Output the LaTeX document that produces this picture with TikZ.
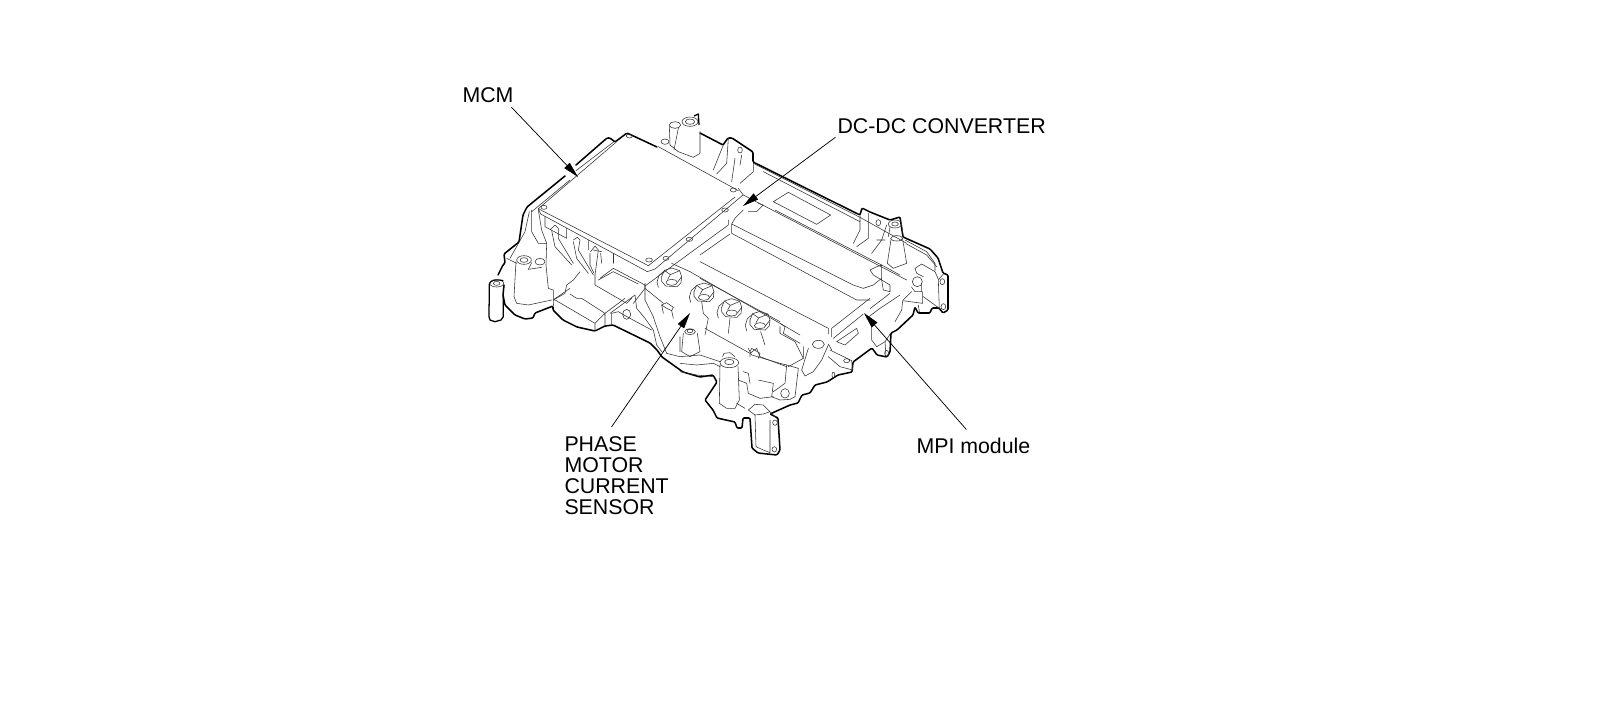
\documentclass[tikz,border=0pt]{standalone}
\usepackage{fontspec}
\setmainfont{Liberation Sans}
\usetikzlibrary{arrows.meta}
\tikzset{
  zoomfrom/.style 2 args={shift={(#1,#2)},x=.25pt,y=-.25pt},
  fine/.style={line width=.42pt,draw=black!80,line join=round,line cap=round},
  heavy/.style={line width=1.15pt,draw=black,line join=round,line cap=round,rounded corners=.8pt},
  tube/.style={line width=.95pt,draw=black,line join=round},
  callout/.style={inner sep=0pt,outer sep=0pt,font=\fontsize{16}{15.75}\selectfont,text=black,align=left},
  pointer/.style={line width=.55pt,draw=black,-{Triangle[length=12pt,width=5.6pt]}},
  nutbolt/.pic={
    \draw[fine] (-30,-8)--(-22,-27)--(0,-34)--(24,-26)--(30,-8)--(18,8);
    \draw[fine] (-30,-8)--(-30,6)--(-18,20)--(16,22)--(28,10)--(30,-8);
    \draw[fine] (-22,-27)--(-4,-14)--(24,-26) (-4,-14)--(-12,0);
    \draw[fine] (0,9) ellipse [x radius=17,y radius=9];
    \draw[fine] (-24,-24)--(-38,-12)--(-44,8)--(-40,24);
  }
}
\begin{document}
\begin{tikzpicture}[x=.75pt,y=-.75pt]
\useasboundingbox (0,0) rectangle (1600,708);

% main silhouette
\draw[heavy] (498,275)--(503,265)--(505,263)--(504,254)--(519,242)--(523,215)--(527,207)--(565,176);
\draw[heavy] (576,165)--(607,138)--(610,138)--(615,142)--(627,133)--(657,147);
\draw[heavy] (700,133)--(723,145)--(728,138)--(732,138)--(753,152)--(753,162)--(860,215)--(862,208)--(870,212)--(890,220)--(900,217)--(903,237)--(930,249)--(938,258)--(943,273)--(948,275)--(948,310)--(943,313)--(939,308)--(932,308)--(930,313)--(918,313)--(915,307)--(913,315)--(897,330)--(891,333)--(890,352)--(887,357)--(877,355)--(872,348)--(853,362)--(852,372)--(838,375)--(827,382)--(815,385)--(810,393)--(802,395)--(798,403)--(790,405)--(770,414)--(778,418)--(780,450)--(777,455)--(758,453)--(752,448)--(750,418)--(743,418)--(742,428)--(737,428)--(735,422)--(717,418)--(713,410)--(705,400)--(717,382)--(713,375)--(700,377)--(683,372)--(662,357)--(657,350)--(650,343)--(613,325)--(605,326)--(595,331)--(577,327)--(563,320)--(553,310)--(553,306)--(535,313)--(533,318)--(525,319)--(515,315)--(505,305)--(503,295)--(504,285);

% upper left: the MCM plate and its rear wall
\begin{scope}[zoomfrom={470}{100}]
  \draw[fine] (185,335)--(300,240) (318,212)--(432,125);
  \draw[fine] (205,326)--(440,125);
  \draw[fine] (205,326)--(535,497)--(795,291);
  \draw[fine] (212,342)--(532,515)--(555,507)--(819,285);
  \draw[fine] (205,326)--(212,342);
  \draw[fine] (565,140)--(805,272);
  \draw[fine] (222,322) ellipse [x radius=9,y radius=6]
              (537,480) ellipse [x radius=10,y radius=6]
              (588,475) ellipse [x radius=9,y radius=6]
              (658,418) ellipse [x radius=10,y radius=6]
              (478,108) ellipse [x radius=9,y radius=6]
              (790,270) ellipse [x radius=9,y radius=6]
              (765,330) ellipse [x radius=10,y radius=6];
  % post at the rear
  \draw[fine] (660,65) ellipse [x radius=24,y radius=14] (660,65) ellipse [x radius=14,y radius=8];
  \draw[fine] (615,75) ellipse [x radius=17,y radius=10];
  \draw[fine] (598,78)--(600,135)--(625,155)--(670,172)--(690,160)--(690,95);
  \draw[fine] (585,125) ellipse [x radius=12,y radius=8];
  \draw[fine] (625,85)--(612,150);
  \draw[tube] (672,48)--(685,42)--(687,75);
\end{scope}

% left end
\begin{scope}[zoomfrom={470}{210}]
  \draw[fine] (178,5)--(165,65)--(120,145) (185,0)--(185,65)--(205,100)--(230,100);
  \draw[fine] (205,0)--(215,60)--(230,100);
  \draw[fine] (162,150) ellipse [x radius=22,y radius=13] (162,150) ellipse [x radius=12,y radius=7];
  \draw[fine] (210,155) ellipse [x radius=15,y radius=10];
  \draw[fine] (138,155)--(132,260)--(140,280)--(175,285)--(245,270);
  \draw[fine] (110,145)--(140,160) (185,158)--(175,178)--(215,172);
  \draw[fine] (230,100)--(228,165)--(235,235)--(250,240)--(250,272);
  \draw[fine] (240,60)--(255,45)--(265,55)--(265,85)--(310,160);
  \draw[fine] (245,62)--(255,110)--(305,165);
  \draw[fine] (310,90)--(322,82)--(330,90)--(325,120)--(370,195);
  \draw[fine] (310,95)--(320,145)--(355,190);
  \draw[fine] (362,125)--(375,108)--(385,120)--(375,195);
  \draw[fine] (360,130)--(360,165)--(372,190);
  \draw[fine] (392,130)--(395,160) (370,120)--(395,125);
  \draw[fine] (225,20)--(225,50)--(290,85)--(290,55) (355,90)--(355,120);
  \draw[fine] (430,130)--(430,160);
  \draw[fine] (375,195)--(375,225)--(470,280)--(485,265) (385,210)--(430,185)--(505,222);
  \draw[fine] (330,185)--(310,210)--(290,225)--(285,250)--(250,270);
  % tube at the far left
  \draw[tube] (100,255)--(100,320)--(93,330)--(75,335)--(60,330)--(57,320)--(58,222)
              .. controls (60,212) and (75,208) .. (88,210);
  \draw[fine] (80,220) ellipse [x radius=21,y radius=11] (80,220) ellipse [x radius=10,y radius=6];
  \draw[tube] (88,210)--(100,212);
\end{scope}

% lower left block
\begin{scope}[zoomfrom={470}{270}]
  \draw[fine] (252,88)--(375,160)--(375,182) (375,160)--(405,130)--(405,168);
  \draw[fine] (252,88)--(300,55) (300,72)--(320,85)--(335,85)--(405,130) (405,130)--(465,85);
  \draw[fine] (490,100)--(525,55)--(525,40);
  \draw[fine] (425,165)--(425,130)--(445,125)--(480,145)--(545,180);
  \draw[fine] (470,133) ellipse [x radius=12,y radius=15];
  \draw[fine] (250,108)--(252,88);
\end{scope}

% centre: sensor area, nuts
\begin{scope}[zoomfrom={600}{220}]
  \draw[fine] (135,195)--(135,240)--(160,290)--(180,350)--(200,400);
  \draw[fine] (105,225)--(110,265)--(135,295)--(160,330)--(170,375)--(185,395);
  \draw[fine] (135,198)--(385,15)--(385,0);
  \draw[fine] (135,195)--(40,145)--(0,175) (105,225)--(30,280);
  \draw[fine] (215,130)--(270,155)--(540,310)--(600,345);
  \draw[fine] (135,205)--(190,250);
  \draw[fine] (185,255)--(200,248)--(220,262)--(215,272)--(200,265)--(185,255);
  \draw[fine] (185,255)--(190,280) (215,272)--(220,295);
  \draw[fine] (305,245)--(310,280)--(325,295)--(320,320)--(315,345);
  \draw[fine] (390,295)--(385,340) (482,335)--(495,375);
  \draw[fine] (315,325)--(450,400)--(470,385)--(480,410)--(560,440) (450,400)--(450,410);
  \draw[fine] (540,310)--(555,320)--(550,340)--(600,370);
  \draw[fine] (270,335) ellipse [x radius=16,y radius=9] (270,333) ellipse [x radius=9,y radius=5];
  \draw[fine] (250,340)--(245,395)--(270,410)--(300,395)--(292,340) (240,350)--(240,395);
  \draw[fine] (200,400)--(240,410)--(300,405)--(360,425);
  \pic at (215,178) {nutbolt};
  \pic at (312,223) {nutbolt};
  \pic at (395,270) {nutbolt};
  \pic at (480,308) {nutbolt};
\end{scope}

% lower post and front bracket
\begin{scope}[zoomfrom={680}{340}]
  \draw[fine] (148,68) ellipse [x radius=28,y radius=15] (148,66) ellipse [x radius=14,y radius=8];
  \draw[fine] (128,50)--(132,40)--(150,38)--(165,50);
  \draw[fine] (120,75)--(118,190)--(140,205)--(165,205)--(178,180)--(174,80);
  \draw[fine] (0,70)--(50,75)--(100,70)--(120,80) (0,95)--(50,105)--(100,110);
  \draw[fine] (175,120)--(200,130)--(205,160)--(240,175)--(280,170);
  \draw[fine] (190,95)--(205,100)--(210,130);
  \draw[fine] (235,120)--(280,130)--(275,170)--(300,180)--(330,178)--(345,170)--(355,85)--(320,75)--(315,130)--(280,155);
  \draw[fine] (315,160) ellipse [x radius=13,y radius=14];
  \draw[fine] (170,190)--(195,205);
  \draw[fine] (205,210)--(225,193)--(250,195)--(270,215) (205,210)--(225,225)--(250,222)--(270,215)--(290,235);
  \draw[fine] (225,225)--(228,320)--(250,330)--(270,338)--(270,240);
  \draw[fine] (285,248) ellipse [x radius=7,y radius=8] (283,328) ellipse [x radius=7,y radius=8];
  \draw[fine] (205,25)--(215,45)--(300,70)--(320,75) (210,35)--(215,25)--(240,40)--(235,55);
\end{scope}

% lower right corner
\begin{scope}[zoomfrom={700}{270}]
  \draw[fine] (355,223) ellipse [x radius=18,y radius=12];
  \draw[fine] (385,225)--(365,270)--(340,305)--(315,318)--(305,300)--(325,235);
  \draw[fine] (390,240)--(455,272)--(458,300)--(420,290)--(385,260);
  \draw[fine] (440,272) ellipse [x radius=9,y radius=6] (400,315) ellipse [x radius=4,y radius=9];
  \draw[fine] (240,170)--(240,190)--(285,215)--(310,265)--(310,230);
  \draw[fine] (265,290)--(310,265) (385,222)--(395,240);
  \draw[fine] (470,175)--(410,215)--(435,225)--(475,190)--(470,175);
  \draw[fine] (515,170)--(515,210)--(530,230)--(555,215)--(572,190);
  \draw[fine] (555,215)--(558,258);
  \draw[fine] (560,250) ellipse [x radius=6,y radius=9];
\end{scope}

% MPI module
\begin{scope}[zoomfrom={700}{210}]
  \draw[fine] (130,0)--(105,25)--(95,42)--(95,70)--(470,270)--(510,270);
  \draw[fine] (95,42)--(460,225)--(490,235)--(520,225)--(545,205);
  \draw[fine] (90,72)--(0,135);
  \draw[fine] (0,155)--(385,355)--(385,372);
  \draw[fine] (0,205)--(240,335);
  \draw[fine] (225,0)--(515,150)--(545,165)--(600,195);
  \draw[fine] (510,180)--(530,170)--(545,165)--(545,210)--(520,195)--(510,180);
  \draw[fine] (545,210)--(570,225)--(570,245)--(550,240)--(545,210);
  \draw[fine] (510,265)--(395,355)--(395,380);
  \draw[fine] (570,250)--(510,296) (490,312)--(400,385);
  \draw[fine] (600,255)--(540,295)--(500,325);
\end{scope}

% rear wall, window and posts
\begin{scope}[zoomfrom={700}{100}]
  \draw[fine] (220,305)--(265,277)--(392,345)--(350,373)--cycle;
  \draw[fine] (145,335)--(170,335)--(190,315)--(175,310);
  \draw[fine] (70,135)--(40,210) (85,115)--(80,190)--(50,222);
  \draw[fine] (160,190)--(160,215)--(120,250) (105,175)--(95,245) (125,165)--(120,195);
  \draw[fine] (120,150) ellipse [x radius=7,y radius=9];
  \draw[fine] (115,265)--(130,285)--(620,540);
  \draw[fine] (160,190)--(480,352)--(620,430);
  \draw[fine] (190,215)--(480,365);
  \draw[fine] (480,345)--(480,390)--(460,430) (505,340)--(505,415)--(470,440);
  \draw[fine] (535,368) ellipse [x radius=7,y radius=9];
  \draw[fine] (560,375)--(545,420)--(515,460) (530,420)--(555,420);
  \draw[fine] (585,372) ellipse [x radius=20,y radius=12] (585,372) ellipse [x radius=10,y radius=6];
  \draw[fine] (570,382)--(565,410) (605,375)--(610,410);
  \draw[fine] (590,415) ellipse [x radius=18,y radius=8];
  \draw[fine] (573,418)--(562,490)--(580,505)--(620,490)--(608,418);
  \draw[fine] (620,432)--(680,465)--(710,500);
\end{scope}

% right end
\begin{scope}[zoomfrom={880}{230}]
  \draw[fine] (75,30)--(140,65)--(165,100)--(165,122);
  \draw[fine] (105,115)--(125,102)--(165,125)--(175,148);
  \draw[fine] (105,115)--(110,130)--(130,140);
  \draw[fine] (112,155) ellipse [x radius=15,y radius=15];
  \draw[fine] (125,160)--(125,185)--(105,185)--(95,172);
  \draw[fine] (130,200)--(178,235) (128,185)--(128,220)--(68,212)--(65,240)--(45,275);
  \draw[fine] (175,150)--(190,132) (175,150)--(178,240);
  \draw[fine] (187,155) ellipse [x radius=7,y radius=9] (190,230) ellipse [x radius=7,y radius=9];
  \draw[fine] (115,225)--(118,245);
  \draw[fine] (70,210)--(95,185);
\end{scope}

% labels and pointers
\coordinate (tipmcm) at (578,177);
\coordinate (tipdc) at (743,206);
\coordinate (tipphase) at (690,313);
\coordinate (tipmpi) at (864,313);
\node[callout,anchor=base west] (mcm) at (462.5,102) {MCM};
\node[callout,anchor=base west] (dcdc) at (837.5,133) {DC-DC CONVERTER};
\node[callout,anchor=north west] (phase) at (564.5,437) {PHASE\\MOTOR\\CURRENT\\SENSOR};
\node[callout,anchor=base west] (mpi) at (916.5,453) {MPI module};
\draw[pointer] ([shift={(-2,5)}]mcm.south east) -- (tipmcm);
\draw[pointer] ([shift={(-2,4)}]dcdc.south west) -- (tipdc);
\draw[pointer] ([shift={(47,-10)}]phase.north west) -- (tipphase);
\draw[pointer] ([shift={(-7,-8)}]mpi.north) -- (tipmpi);
\end{tikzpicture}
\end{document}
